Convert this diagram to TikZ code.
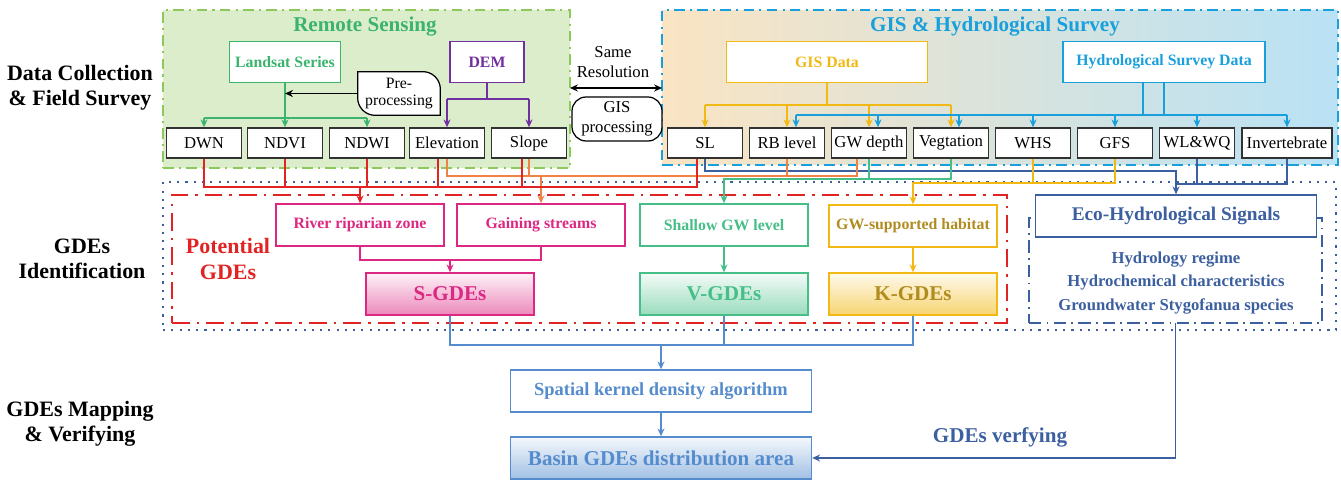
\documentclass[tikz,border=0pt]{standalone}
\usepackage{fontspec}
\setmainfont{Liberation Serif}
\usetikzlibrary{arrows.meta}

\definecolor{myrsfill}{RGB}{220,237,203}
\definecolor{myrsframe}{RGB}{140,200,90}
\definecolor{myrsgreen}{RGB}{60,180,110}
\definecolor{mypurple}{RGB}{112,48,160}
\definecolor{mygisorange}{RGB}{250,228,195}
\definecolor{mygisblue}{RGB}{185,226,245}
\definecolor{mygisframe}{RGB}{25,160,220}
\definecolor{myyellow}{RGB}{242,184,20}
\definecolor{mygold}{RGB}{176,140,32}
\definecolor{myred}{RGB}{225,35,35}
\definecolor{myorange}{RGB}{240,130,70}
\definecolor{mynavy}{RGB}{60,95,160}
\definecolor{mypink}{RGB}{220,40,130}
\definecolor{mymint}{RGB}{70,190,135}
\definecolor{mysky}{RGB}{85,140,205}
\definecolor{mydarkgray}{RGB}{50,50,50}

\begin{document}
\begin{tikzpicture}[x=0.02cm,y=-0.02cm,
    frame/.style={inner sep=0pt,outer sep=0pt},
    databox/.style={draw=mydarkgray,line width=0.8pt,fill=white,minimum width=1.5cm,
      minimum height=0.6cm,inner sep=1pt,font=\fontsize{9.5}{11}\selectfont},
    srcbox/.style={draw,line width=0.8pt,fill=white,minimum height=0.82cm,
      font=\bfseries\fontsize{9}{11}\selectfont},
    gdebox/.style={draw,line width=0.8pt,fill=white,minimum width=3.36cm,
      minimum height=0.84cm,font=\bfseries\fontsize{9}{11}\selectfont},
    bigbox/.style={gdebox,font=\bfseries\fontsize{12}{14}\selectfont},
    plain/.style={align=center,inner sep=1pt,font=\fontsize{9.5}{11.5}\selectfont},
    rowlabel/.style={align=center,font=\bfseries\fontsize{12.5}{14.5}\selectfont},
    title/.style={font=\bfseries\fontsize{12}{14}\selectfont},
    link/.style={line width=0.7pt},
    arr/.style={-{Stealth[length=4.5pt,width=4pt]}}]
  \useasboundingbox (0,0) rectangle (1341,482);

  \node[rowlabel] (lab1) at (80,88)  {Data Collection\\\& Field Survey};
  \node[rowlabel] (lab2) at (82,259) {GDEs\\Identification};
  \node[rowlabel] (lab3) at (80,424) {GDEs Mapping\\\& Verifying};

  \node[frame,fill=myrsfill,draw=myrsframe,line width=0.9pt,
    dash pattern=on 6pt off 3pt on 1.2pt off 3pt,
    minimum width=8.14cm,minimum height=3.16cm] (rs) at (366.5,89) {};
  \node[frame,left color=mygisorange,right color=mygisblue,draw=mygisframe,line width=1pt,
    dash pattern=on 6pt off 3pt on 1.2pt off 3pt,
    minimum width=13.52cm,minimum height=3.1cm] (gis) at (1000,87.5) {};
  \node[frame,draw=mynavy,line width=1.1pt,dash pattern=on 1.2pt off 3.5pt,
    minimum width=23.46cm,minimum height=2.96cm] (idf) at (749.5,256) {};
  \node[frame,draw=myred,line width=1.2pt,dash pattern=on 10pt off 4pt on 1.5pt off 4pt,
    minimum width=16.7cm,minimum height=2.56cm] (pot) at (589.5,259) {};
  \node[frame,draw=mynavy,line width=0.8pt,dash pattern=on 7pt off 3pt on 1pt off 3pt,
    minimum width=5.86cm,minimum height=2.1cm] (ehs) at (1175.5,270.5) {};

  \node[title,text=myrsgreen] (rstitle) at (365,27) {Remote Sensing};
  \node[title,text=mygisframe] (gistitle) at (995,27) {GIS \& Hydrological Survey};

  \node[srcbox,draw=myrsgreen,text=myrsgreen,minimum width=2.2cm] (landsat) at (285,62) {Landsat Series};
  \node[srcbox,draw=mypurple,text=mypurple,minimum width=1.48cm] (dem) at (487,62) {DEM};
  \node[srcbox,draw=myyellow,text=myyellow,minimum width=4.02cm] (gisdata) at (827,62) {GIS Data};
  \node[srcbox,draw=mygisframe,text=mygisframe,minimum width=4.04cm] (hydro) at (1164,62) {Hydrological Survey Data};

  \node[align=center,inner sep=0pt,minimum width=1.64cm,minimum height=0.86cm,
    font=\fontsize{9}{10}\selectfont] (pre) at (399,93.5) {Pre-\\processing};
  \draw[line width=0.7pt,fill=white] (pre.north west) -- ([xshift=-0.35cm]pre.north east)
    arc[start angle=90,end angle=0,radius=0.35cm] -- (pre.south east)
    -- ([xshift=0.35cm]pre.south west) arc[start angle=270,end angle=180,radius=0.35cm] -- cycle;
  \node[align=center,inner sep=0pt,font=\fontsize{9}{10}\selectfont] at (pre) {Pre-\\processing};

  \node[plain] (sameres) at (613,62) {Same\\Resolution};
  \node[plain,draw,line width=0.7pt,rounded corners=8pt,fill=white,
    minimum width=1.8cm,minimum height=0.88cm] (gisproc) at (617,119) {GIS\\processing};

  \node[databox] (dwn)   at (204,143) {DWN};
  \node[databox] (ndvi)  at (285,143) {NDVI};
  \node[databox] (ndwi)  at (367,143) {NDWI};
  \node[databox] (elev)  at (447,143) {Elevation};
  \node[databox] (slope) at (529,143) {Slope};
  \node[databox] (sl)    at (705,143) {SL};
  \node[databox] (rb)    at (787,143) {RB level};
  \node[databox] (gwd)   at (869,143) {GW depth};
  \node[databox] (veg)   at (951,143) {Vegtation};
  \node[databox] (whs)   at (1033,143) {WHS};
  \node[databox] (gfs)   at (1115,143) {GFS};
  \node[databox] (wlwq)  at (1197,143) {WL\&WQ};
  \node[databox,minimum width=1.8cm] (inv) at (1287,143) {Invertebrate};

  \node[gdebox,draw=mypink,text=mypink] (riparian) at (360,225) {River riparian zone};
  \node[gdebox,draw=mypink,text=mypink] (gaining)  at (541,225) {Gaining streams};
  \node[gdebox,draw=mymint,text=mymint] (shallow)  at (724,225) {Shallow GW level};
  \node[gdebox,draw=myyellow,text=mygold] (habitat) at (913,226) {GW-supported habitat};

  \node[bigbox,draw=mypink,text=mypink,top color=mypink!6,bottom color=mypink!55] (sgde) at (450,294) {S-GDEs};
  \node[bigbox,draw=mymint,text=mymint,top color=mymint!6,bottom color=mymint!55] (vgde) at (724,294) {V-GDEs};
  \node[bigbox,draw=myyellow,text=mygold,top color=myyellow!8,bottom color=myyellow!60] (kgde) at (913,294) {K-GDEs};

  \node[align=center,text=myred,font=\bfseries\fontsize{12.5}{14.5}\selectfont] (potlabel) at (228,259) {Potential\\GDEs};

  \node[draw=mynavy,line width=0.8pt,fill=white,text=mynavy,minimum width=5.62cm,minimum height=0.84cm,
    font=\bfseries\fontsize{11}{13}\selectfont] (eco) at (1176,216) {Eco-Hydrological Signals};
  \node[align=center,text=mynavy,font=\bfseries\fontsize{9.5}{13.5}\selectfont] (signals) at (1176,283)
    {Hydrology regime\\Hydrochemical characteristics\\Groundwater Stygofanua species};

  \node[draw=mysky,line width=0.8pt,fill=white,text=mysky,minimum width=6.02cm,minimum height=0.84cm,
    font=\bfseries\fontsize{10.5}{12}\selectfont] (kernel) at (661,391) {Spatial kernel density algorithm};
  \node[draw=mysky,line width=0.8pt,top color=mysky!6,bottom color=mysky!55,text=mysky,
    minimum width=6.02cm,minimum height=0.84cm,
    font=\bfseries\fontsize{12}{14}\selectfont] (basin) at (661,458) {Basin GDEs distribution area};
  \node[text=mynavy,font=\bfseries\fontsize{12}{14}\selectfont] (verify) at (1000,437) {GDEs verfying};

  \coordinate (lsbus)  at (0,118);
  \coordinate (dembus) at (0,99);
  \coordinate (gisbus) at (0,105);
  \coordinate (hydbus) at (0,115);
  \coordinate (resarr) at (0,88);
  \coordinate (navbus) at (0,171);
  \coordinate (orgbus) at (0,176);
  \coordinate (grnbus) at (0,179);
  \coordinate (ylwbus) at (0,183);
  \coordinate (navbus2) at (0,184);
  \coordinate (redbus) at (0,187);
  \coordinate (pnkbus) at (0,260);
  \coordinate (skybus) at (0,345);

  \draw[link,myrsgreen] (landsat.south) -- (landsat.south |- lsbus) (dwn.north |- lsbus) -- (ndwi.north |- lsbus);
  \foreach \n in {dwn,ndvi,ndwi}
    \draw[link,myrsgreen,arr] (\n.north |- lsbus) -- (\n.north);
  \draw[link,black,arr] (pre.west) -- (landsat.south |- pre.west);

  \draw[link,mypurple] (dem.south) -- (dem.south |- dembus) (elev.north |- dembus) -- (slope.north |- dembus);
  \foreach \n in {elev,slope}
    \draw[link,mypurple,arr] (\n.north |- dembus) -- (\n.north);

  \draw[link,black,{Stealth[length=4.5pt,width=4pt]}-{Stealth[length=4.5pt,width=4pt]}]
    (rs.east |- resarr) -- (gis.west |- resarr);

  \draw[link,myyellow] (gisdata.south) -- (gisdata.south |- gisbus) (sl.north |- gisbus) -- (veg.north |- gisbus);
  \foreach \n in {sl,rb,gwd,veg}
    \draw[link,myyellow,arr] (\n.north |- gisbus) -- (\n.north);

  \coordinate (hydL) at ([xshift=-0.42cm]hydro.south);
  \coordinate (rbH)  at ([xshift=0.18cm]rb.north);
  \coordinate (gwdH) at ([xshift=0.18cm]gwd.north);
  \coordinate (vegH) at ([xshift=0.16cm]veg.north);
  \draw[link,mygisframe] (hydL) -- (hydL |- hydbus) (hydro.south) -- (hydro.south |- hydbus)
    (rbH |- hydbus) -- (inv.north |- hydbus);
  \foreach \n in {rbH,gwdH,vegH,whs.north,gfs.north,wlwq.north,inv.north}
    \draw[link,mygisframe,arr] (\n |- hydbus) -- (\n);

  \coordinate (elevR)  at ([xshift=-0.18cm]elev.south);
  \coordinate (slopeR) at ([xshift=-0.14cm]slope.south);
  \coordinate (slR)    at ([xshift=-0.16cm]sl.south);
  \coordinate (gwdO)   at ([xshift=-0.24cm]gwd.south);

  \draw[link,mynavy,arr] (sl.south) |- (eco.north |- navbus) -- (eco.north);
  \draw[link,mynavy] (wlwq.south) -- (wlwq.south |- navbus2) (inv.south) |- (eco.north |- navbus2);

  \draw[link,myorange] (elev.south) |- (gwdO |- orgbus) -- (gwdO);
  \foreach \n in {slope.south,rb.south}
    \draw[link,myorange] (\n) -- (\n |- orgbus);
  \draw[link,myorange,arr] (gaining.north |- orgbus) -- (gaining.north);

  \draw[link,mymint] (gwd.south) -- (gwd.south |- grnbus);
  \draw[link,mymint,arr] (veg.south) |- (shallow.north |- grnbus) -- (shallow.north);

  \draw[link,myyellow] (whs.south) -- (whs.south |- ylwbus);
  \draw[link,myyellow,arr] (gfs.south) |- (habitat.north |- ylwbus) -- (habitat.north);

  \draw[link,myred] (dwn.south) |- (slR |- redbus) -- (slR);
  \foreach \n in {ndvi.south,ndwi.south,elevR,slopeR}
    \draw[link,myred] (\n) -- (\n |- redbus);
  \draw[link,myred,arr] (riparian.north |- redbus) -- (riparian.north);

  \draw[link,mypink] (riparian.south) |- (gaining.south |- pnkbus) -- (gaining.south);
  \draw[link,mypink,arr] (sgde.north |- pnkbus) -- (sgde.north);
  \draw[link,mymint,arr] (shallow.south) -- (vgde.north);
  \draw[link,myyellow,arr] (habitat.south) -- (kgde.north);

  \draw[link,mysky] (sgde.south) |- (kgde.south |- skybus) -- (kgde.south);
  \draw[link,mysky] (vgde.south) -- (vgde.south |- skybus);
  \draw[link,mysky,arr] (kernel.north |- skybus) -- (kernel.north);
  \draw[link,mysky,arr] (kernel.south) -- (basin.north);

  \draw[link,mynavy,arr] (ehs.south) |- (basin.east);
\end{tikzpicture}
\end{document}
